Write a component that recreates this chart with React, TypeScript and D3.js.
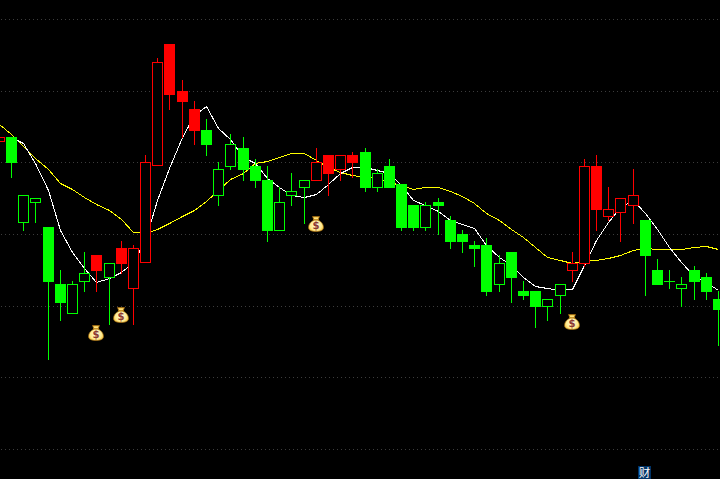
import React from "react";
import * as d3 from "d3";

const WIDTH = 720;
const HEIGHT = 479;

// sessions run from -1 (clipped at the left edge) to 58
const sessions = d3.range(-1, 59);
const candleStyles = "rGggGGggRgRrrrRRRGggGGGgggrRrRGgGGGgGGGGGgGGGggrrRrrrGGGgGGG";
const bodyTop = [342, 342, 284, 281, 252, 195, 195, 206, 224, 216, 231, 231, 317, 417, 435, 388, 370, 349, 310, 335, 331, 313, 299, 277, 288, 299, 317, 324, 324, 324, 327, 306, 313, 295, 274, 274, 277, 259, 245, 234, 234, 216, 227, 188, 188, 180, 195, 216, 313, 313, 270, 281, 284, 259, 209, 198, 195, 209, 202, 180];
const bodyBottom = [337, 316, 256, 276, 197, 176, 165, 197, 208, 201, 215, 190, 216, 313, 384, 377, 348, 334, 283, 312, 309, 298, 248, 248, 283, 291, 298, 305, 309, 316, 291, 291, 291, 251, 251, 251, 273, 237, 237, 230, 187, 194, 201, 183, 172, 172, 183, 208, 215, 269, 262, 266, 273, 223, 194, 197, 190, 197, 187, 169];
const highs = [342, 342, 284, 281, 252, 209, 198, 227, 224, 216, 238, 234, 324, 421, 435, 399, 378, 360, 317, 345, 342, 320, 313, 292, 306, 299, 331, 324, 324, 327, 331, 310, 320, 295, 274, 277, 281, 263, 249, 238, 241, 224, 227, 198, 188, 180, 195, 227, 320, 324, 292, 281, 310, 259, 220, 209, 202, 213, 206, 188];
const lows = [337, 301, 248, 256, 119, 158, 165, 187, 187, 154, 205, 154, 216, 313, 369, 341, 334, 323, 273, 309, 298, 291, 237, 248, 273, 255, 298, 283, 298, 301, 287, 287, 291, 248, 248, 248, 244, 230, 226, 212, 183, 187, 176, 179, 151, 158, 165, 197, 212, 248, 258, 237, 255, 183, 194, 190, 172, 179, 179, 133];

const slowAverage = [355, 345, 333, 321, 310, 296, 290, 282, 275, 269, 260, 247, 246, 250, 256, 263, 269, 278, 289, 300, 306, 316, 318, 322, 326, 326, 319, 312, 307, 304, 302, 301, 297, 294, 290, 292, 292, 288, 283, 276, 266, 259, 250, 242, 232, 222, 219, 216, 218, 219, 221, 224, 229, 231, 230, 230, 230, 232, 233, 230];
const fastAverage = [342, 336, 316, 289, 249, 227, 211, 197, 201, 207, 217, 239, 279, 311, 342, 364, 373, 351, 340, 322, 316, 301, 292, 284, 282, 285, 295, 306, 312, 312, 309, 306, 294, 279, 274, 268, 259, 255, 251, 234, 222, 214, 202, 193, 191, 189, 190, 214, 239, 257, 272, 279, 266, 250, 232, 217, 203, 197, 189];

const gridLevels = [460, 388, 317, 245, 173, 102, 30];
const bagSessions = [7, 9, 25, 46];
const bagLevels = [146, 164, 255, 157];
const financeFlagSession = 51;

const x = d3.scaleLinear().domain([0, 58]).range([11, 718]);
const y = d3.scaleLinear().domain([0, HEIGHT]).range([HEIGHT, 0]);
const px = (s: number) => Math.round(x(s));

const RED = "#ff0000";
const GREEN = "#00ff00";

const slowLine = d3
  .line<number>()
  .x((_, i) => px(sessions[i]) + 0.5)
  .y((v) => y(v) + 0.5);
const fastLine = d3
  .line<number>()
  .x((_, i) => px(i) + 0.5)
  .y((v) => y(v) + 0.5);

function MoneyBag({ cx, cy }: { cx: number; cy: number }) {
  return (
    <g transform={`translate(${cx},${cy})`}>
      <path
        d="M-3.5,-7.5 L3.5,-7.5 L2,-4 C6,-2 7.5,1 7.5,3.5 C7.5,6.5 4,7.5 0,7.5 C-4,7.5 -7.5,6.5 -7.5,3.5 C-7.5,1 -6,-2 -2,-4 Z"
        fill="url(#bagFill)"
        stroke="#a06a10"
        strokeWidth={0.7}
      />
      <rect x={-3} y={-4.8} width={6} height={1.3} fill="#b87c10" />
      <text
        x={0}
        y={5.4}
        textAnchor="middle"
        fontFamily="'DejaVu Sans', sans-serif"
        fontWeight="bold"
        fontSize={10}
        fill="#8c3a30"
      >
        $
      </text>
    </g>
  );
}

export default function App() {
  const flagX = px(financeFlagSession) + 5;
  return (
    <svg
      width={WIDTH}
      height={HEIGHT}
      viewBox={`0 0 ${WIDTH} ${HEIGHT}`}
      style={{ position: "fixed", left: 0, top: 0, background: "#000", display: "block" }}
    >
      <defs>
        <radialGradient id="bagFill" cx="50%" cy="55%" r="60%">
          <stop offset="0%" stopColor="#fffbe0" />
          <stop offset="65%" stopColor="#ffe98a" />
          <stop offset="100%" stopColor="#e8a820" />
        </radialGradient>
      </defs>
      <rect width={WIDTH} height={HEIGHT} fill="#000" />

      {gridLevels.map((level) => (
        <line
          key={level}
          x1={0}
          x2={WIDTH}
          y1={y(level) + 0.5}
          y2={y(level) + 0.5}
          stroke="#3c3c3c"
          strokeWidth={1}
          strokeDasharray="1 3"
          strokeDashoffset={-1}
          shapeRendering="crispEdges"
        />
      ))}

      <g shapeRendering="crispEdges">
        <path d={slowLine(slowAverage) ?? ""} fill="none" stroke="#ffff00" strokeWidth={1} />
        <path d={fastLine(fastAverage) ?? ""} fill="none" stroke="#ffffff" strokeWidth={1} />
      </g>

      <g shapeRendering="crispEdges">
        {sessions.map((s, i) => {
          const style = candleStyles[i];
          const color = style === "r" || style === "R" ? RED : GREEN;
          const hollow = style === "r" || style === "g";
          const cx = px(s);
          const top = y(bodyTop[i]);
          const bottom = y(bodyBottom[i]);
          return (
            <g key={s}>
              <rect x={cx} y={y(highs[i])} width={1} height={y(lows[i]) - y(highs[i])} fill={color} />
              {hollow ? (
                <rect
                  x={cx - 4.5}
                  y={top + 0.5}
                  width={10}
                  height={Math.max(bottom - top - 1, 0)}
                  fill="#000"
                  stroke={color}
                  strokeWidth={1}
                />
              ) : (
                <rect x={cx - 5} y={top} width={11} height={bottom - top} fill={color} />
              )}
            </g>
          );
        })}
      </g>

      {bagSessions.map((s, i) => (
        <MoneyBag key={s} cx={px(s)} cy={y(bagLevels[i])} />
      ))}

      <rect x={flagX} y={466} width={13} height={13} fill="#003366" />
      <text
        x={flagX + 6.5}
        y={476.5}
        textAnchor="middle"
        fontFamily="'Noto Sans CJK SC', sans-serif"
        fontSize={11.5}
        fill="#ffffff"
      >
        财
      </text>
    </svg>
  );
}
